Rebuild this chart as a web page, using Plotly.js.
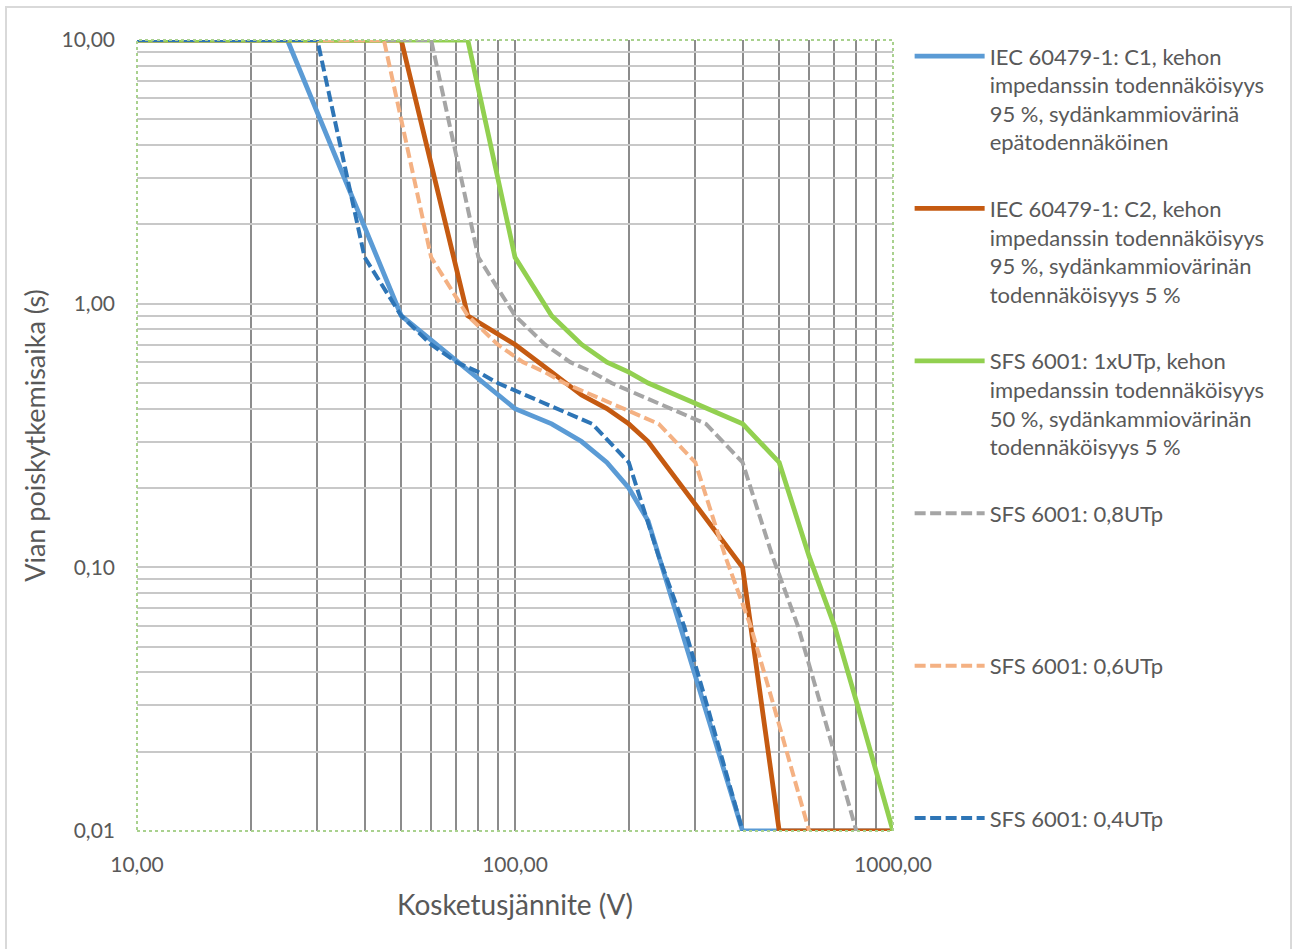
<!DOCTYPE html>
<html>
<head>
<meta charset="utf-8">
<script src="https://cdn.plot.ly/plotly-3.0.1.min.js"></script>
<style>
  html, body { margin: 0; padding: 0; background: #ffffff; }
  #chart { width: 1292px; height: 949px; }
</style>
</head>
<body>
<div id="chart"></div>
<script>
// Kosketusjännite (V) ja vian poiskytkemisaika (s) kullekin käyrälle
const c1Voltage = [10, 25, 50, 100, 125, 150, 175, 200, 225, 400, 1000];
const c1Time    = [10, 10, 0.9, 0.4, 0.35, 0.3, 0.25, 0.2, 0.15, 0.01, 0.01];

const c2Voltage = [10, 50, 75, 100, 125, 150, 175, 200, 225, 400, 500, 1000];
const c2Time    = [10, 10, 0.9, 0.7, 0.55, 0.45, 0.4, 0.35, 0.3, 0.1, 0.01, 0.01];

const utp10Voltage = [10, 75, 100, 125, 150, 175, 200, 225, 400, 500, 600, 700, 800, 1000];
const utp10Time    = [10, 10, 1.5, 0.9, 0.7, 0.6, 0.55, 0.5, 0.35, 0.25, 0.11, 0.06, 0.031, 0.01];

const utp08Voltage = [10, 60, 80, 100, 120, 140, 160, 180, 320, 400, 480, 560, 640, 800];
const utp08Time    = [10, 10, 1.5, 0.9, 0.7, 0.6, 0.55, 0.5, 0.35, 0.25, 0.11, 0.06, 0.031, 0.01];

const utp06Voltage = [10, 45, 60, 75, 90, 105, 120, 135, 240, 300, 360, 420, 480, 600];
const utp06Time    = [10, 10, 1.5, 0.9, 0.7, 0.6, 0.55, 0.5, 0.35, 0.25, 0.11, 0.06, 0.031, 0.01];

const utp04Voltage = [10, 30, 40, 50, 60, 70, 80, 90, 160, 200, 240, 280, 320, 400];
const utp04Time    = [10, 10, 1.5, 0.9, 0.7, 0.6, 0.55, 0.5, 0.35, 0.25, 0.11, 0.06, 0.031, 0.01];

const seriesNames = [
  'IEC 60479-1: C1, kehon<br>impedanssin todennäköisyys<br>95 %, sydänkammiovärinä<br>epätodennäköinen',
  'IEC 60479-1: C2, kehon<br>impedanssin todennäköisyys<br>95 %, sydänkammiovärinän<br>todennäköisyys 5 %',
  'SFS 6001: 1xUTp, kehon<br>impedanssin todennäköisyys<br>50 %, sydänkammiovärinän<br>todennäköisyys 5 %',
  'SFS 6001: 0,8UTp<br>&nbsp;<br>&nbsp;<br>&nbsp;',
  'SFS 6001: 0,6UTp<br>&nbsp;<br>&nbsp;<br>&nbsp;',
  'SFS 6001: 0,4UTp<br>&nbsp;<br>&nbsp;<br>&nbsp;'
];

// Akselien jakoviivat: jokainen 1–9-kerrannainen, nimiöt vain dekadeille
const xTickVals = [10,20,30,40,50,60,70,80,90,100,200,300,400,500,600,700,800,900,1000];
const xTickText = ['10,00','','','','','','','','','100,00','','','','','','','','','1000,00'];
const yTickVals = [0.01,0.02,0.03,0.04,0.05,0.06,0.07,0.08,0.09,0.1,0.2,0.3,0.4,0.5,0.6,0.7,0.8,0.9,1,2,3,4,5,6,7,8,9,10];
const yTickText = ['0,01','','','','','','','','','0,10','','','','','','','','','1,00','','','','','','','','','10,00'];

const FONT = 'Lato, "Open Sans", sans-serif';
const TEXT_GREY = '#595959';
const DASH = '11px,4.5px';

function line(x, y, name, color, width, dash, group) {
  return {
    type: 'scatter', mode: 'lines', x: x, y: y, name: name,
    legendgroup: group,
    line: { color: color, width: width, dash: dash || 'solid' },
    hoverinfo: 'x+y+name'
  };
}

const traces = [
  line(c1Voltage, c1Time, seriesNames[0], '#5B9BD5', 4.8, null, 'g1'),
  line(c2Voltage, c2Time, seriesNames[1], '#C55A11', 4.8, null, 'g2'),
  line(utp10Voltage, utp10Time, seriesNames[2], '#92D050', 4.8, null, 'g3'),
  line(utp08Voltage, utp08Time, seriesNames[3], '#A5A5A5', 4, DASH, 'g4'),
  line(utp06Voltage, utp06Time, seriesNames[4], '#F4B183', 4, DASH, 'g5'),
  line(utp04Voltage, utp04Time, seriesNames[5], '#2E75B6', 4, DASH, 'g6')
];

const layout = {
  width: 1292, height: 949,
  margin: { l: 137, r: 399, t: 40, b: 118 },
  paper_bgcolor: '#ffffff', plot_bgcolor: '#ffffff',
  font: { family: FONT, color: TEXT_GREY, size: 21 },
  showlegend: true,
  legend: {
    x: 1.022, xanchor: 'left', y: 1.006, yanchor: 'top',
    valign: 'top', traceorder: 'grouped', tracegroupgap: 35,
    itemwidth: 70, maxheight: 940,
    font: { family: FONT, size: 22, color: TEXT_GREY },
    bgcolor: 'rgba(0,0,0,0)'
  },
  xaxis: {
    type: 'log', range: [1, 3],
    tickmode: 'array', tickvals: xTickVals, ticktext: xTickText,
    showgrid: true, gridcolor: '#8C8C8C', gridwidth: 2,
    zeroline: false, showline: false, ticks: '',
    ticklabelstandoff: 19,
    tickfont: { family: FONT, size: 21, color: TEXT_GREY },
    title: { text: 'Kosketusjännite (V)', font: { family: FONT, size: 28, color: TEXT_GREY }, standoff: 20 }
  },
  yaxis: {
    type: 'log', range: [-2, 1],
    tickmode: 'array', tickvals: yTickVals, ticktext: yTickText,
    showgrid: true, gridcolor: '#C8C8C8', gridwidth: 2,
    zeroline: false, showline: false, ticks: '',
    ticklabelstandoff: 21,
    tickfont: { family: FONT, size: 21, color: TEXT_GREY },
    title: { text: 'Vian poiskytkemisaika (s)', font: { family: FONT, size: 27, color: TEXT_GREY }, standoff: 8 }
  },
  shapes: [
    // plot area frame
    { type: 'rect', xref: 'paper', yref: 'paper', x0: 0, x1: 1, y0: 0, y1: 1,
      line: { color: '#A9D18E', width: 2, dash: 'dot' }, layer: 'above' },
    // chart area frame
    { type: 'rect', xref: 'paper', yref: 'paper', x0: -0.1733, x1: 1.5265, y0: -0.2, y1: 1.0417,
      line: { color: '#D9D9D9', width: 2 }, layer: 'below' }
  ]
};

Plotly.newPlot('chart', traces, layout, { displayModeBar: false, staticPlot: true });
</script>
</body>
</html>
